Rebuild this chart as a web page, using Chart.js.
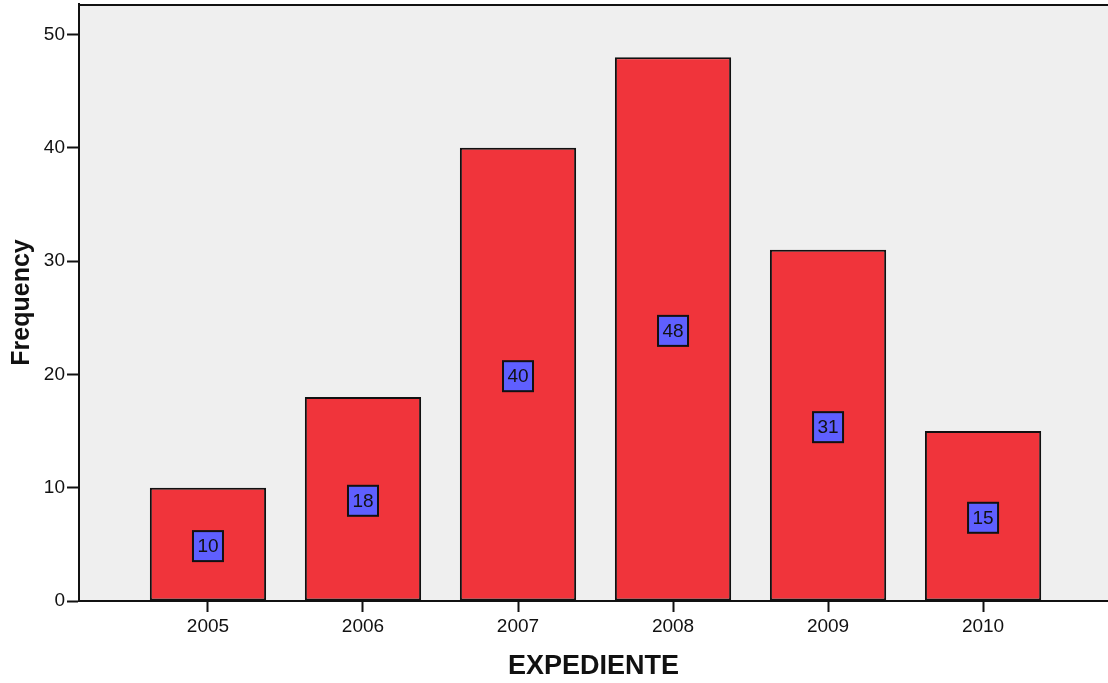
<!DOCTYPE html>
<html>
<head>
<meta charset="utf-8">
<script src="https://cdn.jsdelivr.net/npm/chart.js@4/dist/chart.umd.min.js"></script>
<style>
  html, body { margin: 0; padding: 0; background: #ffffff; }
  #wrap { width: 1108px; height: 683px; }
</style>
</head>
<body>
<div id="wrap"><canvas id="c" width="1108" height="683"></canvas></div>
<script>
// Expedientes por año
const years = [2005, 2006, 2007, 2008, 2009, 2010];
const frequency = [10, 18, 40, 48, 31, 15];
const yTickValues = [0, 10, 20, 30, 40, 50];

const FONT = "'Liberation Sans', Arial, sans-serif";

// Grey plot background and the top frame line
const plotFrame = {
  id: 'plotFrame',
  beforeDraw(chart) {
    const { ctx, chartArea: a } = chart;
    ctx.save();
    ctx.fillStyle = '#efefef';
    ctx.fillRect(a.left, a.top, a.right - a.left, a.bottom - a.top);
    ctx.strokeStyle = '#111111';
    ctx.lineWidth = 2;
    ctx.beginPath();
    ctx.moveTo(a.left, a.top + 1);
    ctx.lineTo(a.right, a.top + 1);
    ctx.stroke();
    ctx.restore();
  }
};

// Boxed value label in the middle of every bar
const valueBoxes = {
  id: 'valueBoxes',
  afterDatasetsDraw(chart) {
    const { ctx } = chart;
    const meta = chart.getDatasetMeta(0);
    const ds = chart.data.datasets[0];
    ctx.save();
    meta.data.forEach((bar, i) => {
      const v = ds.data[i].y;
      const cx = bar.x;
      const cy = (bar.y + bar.base) / 2 + 2;
      const s = 30;
      ctx.fillStyle = '#5f5fff';
      ctx.fillRect(cx - s / 2, cy - s / 2, s, s);
      ctx.strokeStyle = '#111111';
      ctx.lineWidth = 2;
      ctx.strokeRect(cx - s / 2, cy - s / 2, s, s);
      ctx.fillStyle = '#111111';
      ctx.font = '19px ' + FONT;
      ctx.textAlign = 'center';
      ctx.textBaseline = 'middle';
      ctx.fillText(String(v), cx, cy + 1);
    });
    ctx.restore();
  }
};

// Drop the label overflow padding so the plot fills the frame
function noEdgePadding(scale) {
  scale.paddingTop = 0;
  scale.paddingBottom = 0;
  scale.paddingLeft = 0;
  scale.paddingRight = 0;
}

new Chart(document.getElementById('c'), {
  type: 'bar',
  data: {
    datasets: [{
      data: years.map((y, i) => ({ x: y, y: frequency[i] })),
      backgroundColor: '#f0343b',
      borderColor: '#111111',
      borderWidth: 2,
      borderSkipped: false,
      categoryPercentage: 1.0,
      barPercentage: 0.75
    }]
  },
  options: {
    responsive: false,
    animation: false,
    layout: { padding: { top: 4, right: 0, bottom: 0, left: 0 } },
    plugins: {
      legend: { display: false },
      tooltip: { enabled: false }
    },
    scales: {
      x: {
        type: 'linear',
        offset: false,
        min: 2004.168,
        max: 2010.806,
        afterBuildTicks(scale) {
          scale.ticks = years.map(v => ({ value: v }));
        },
        afterFit(scale) { scale.height = 82; noEdgePadding(scale); },
        ticks: {
          color: '#111111',
          font: { family: FONT, size: 19 },
          padding: 3,
          maxRotation: 0,
          autoSkip: false,
          callback: v => String(v)
        },
        grid: {
          display: true,
          offset: false,
          drawOnChartArea: false,
          drawTicks: true,
          tickLength: 11,
          tickWidth: 2,
          tickColor: '#111111'
        },
        border: { display: true, color: '#111111', width: 2 },
        title: {
          display: true,
          text: 'EXPEDIENTE',
          color: '#111111',
          font: { family: FONT, size: 27, weight: 'bold', lineHeight: 1.2 },
          padding: 0
        }
      },
      y: {
        min: 0,
        max: 52.7,
        afterBuildTicks(scale) {
          scale.ticks = yTickValues.map(v => ({ value: v }));
        },
        afterFit(scale) { scale.width = 79; noEdgePadding(scale); },
        ticks: {
          color: '#111111',
          font: { family: FONT, size: 19 },
          padding: 2,
          callback: v => String(v)
        },
        grid: {
          display: true,
          drawOnChartArea: false,
          drawTicks: true,
          tickLength: 12,
          tickWidth: 2,
          tickColor: '#111111'
        },
        border: { display: true, color: '#111111', width: 2 },
        title: {
          display: true,
          text: 'Frequency',
          color: '#111111',
          font: { family: FONT, size: 25, weight: 'bold', lineHeight: 1.2 },
          padding: { top: 7, bottom: 7 }
        }
      }
    }
  },
  plugins: [plotFrame, valueBoxes]
});
</script>
</body>
</html>
